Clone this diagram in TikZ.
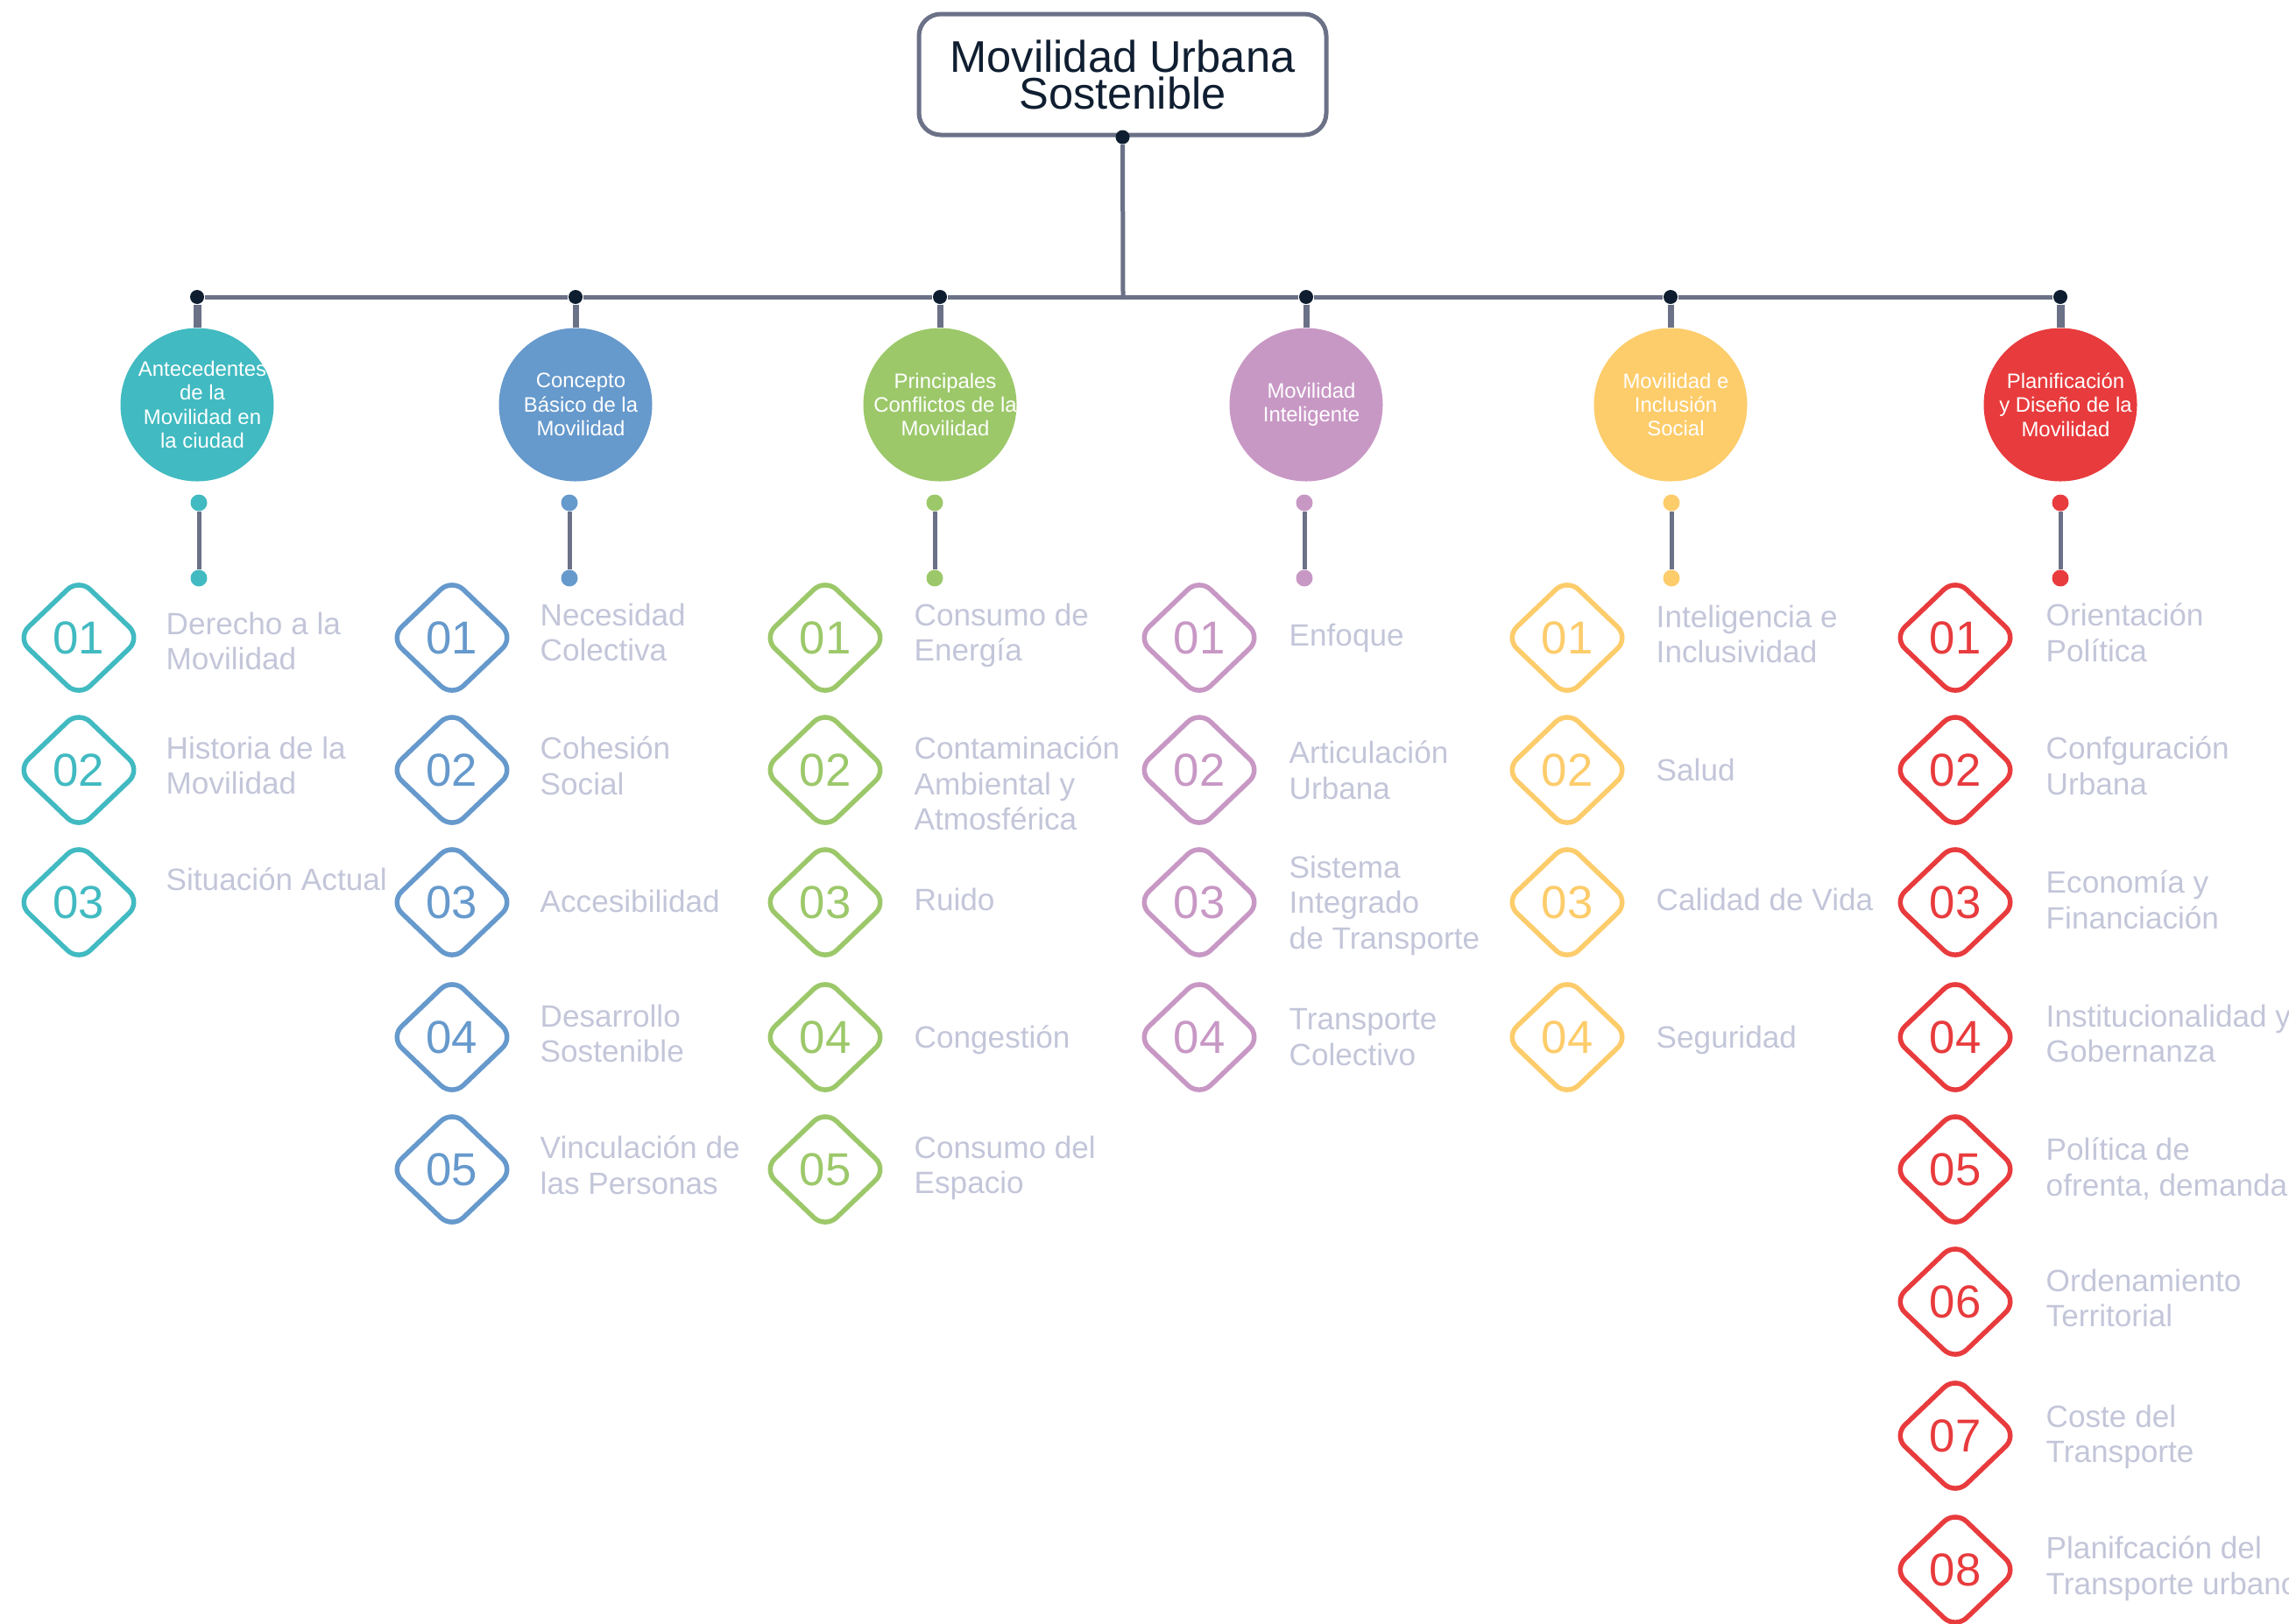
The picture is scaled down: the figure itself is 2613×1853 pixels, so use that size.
\documentclass[tikz,border=0pt]{standalone}
\usepackage{fontspec}
\setmainfont{Liberation Sans}
\usetikzlibrary{shapes.geometric}
\definecolor{cteal}{HTML}{41BAC1}
\definecolor{cblue}{HTML}{6699CC}
\definecolor{cgreen}{HTML}{9CC86A}
\definecolor{cpurple}{HTML}{C898C5}
\definecolor{cyellow}{HTML}{FDCC6B}
\definecolor{cred}{HTML}{E83B3D}
\definecolor{wiregray}{HTML}{6B7187}
\definecolor{hubdark}{HTML}{0E1E30}
\definecolor{itemgray}{HTML}{C3C6D9}
\definecolor{titleink}{HTML}{101E31}
\begin{document}
\begin{tikzpicture}[x=0.1mm, y=-0.1mm, line join=round,
	wire/.style={draw=wiregray, line width=0.5mm},
	stem/.style={draw=wiregray, line width=#1},
	hub/.style={circle, fill=hubdark, inner sep=0, minimum size=1.6mm},
	knob/.style={circle, fill=#1, inner sep=0, minimum size=1.9mm},
	rootbox/.style={draw=wiregray, line width=0.5mm, rounded corners=2.5mm, minimum width=46.5mm, minimum height=13.8mm, align=center, text=titleink, font=\fontsize{14.4}{12}\selectfont},
	topic/.style={circle, fill=#1, inner sep=0, minimum size=17.5mm},
	topictext/.style={align=center, text=white, inner sep=0, xshift=0.6mm, font=\fontsize{6.8}{7.8}\selectfont},
	badge/.style={diamond, draw=#1, text=#1, line width=0.55mm, rounded corners=1.8mm, minimum width=14.3mm, minimum height=13.7mm, inner sep=0, font=\fontsize{15}{15}\selectfont},
	itemlabel/.style={anchor=north west, inner sep=0, align=left, text=itemgray, font=\fontsize{10}{11.5}\selectfont}]
	\useasboundingbox (0,0) rectangle (2613,1853);
	% title and bus
	\node[rootbox] (root) at (1281.5,85) {Movilidad Urbana\\Sostenible};
	\node[hub] (h0) at (root.south) {};
	\coordinate (busmid) at (1282,339);
	\draw[wire] (h0) -- (busmid);
	% six topics
	\foreach \i/\c/\x/\lx/\w/\lab in {
		1/cteal/225/227/0.9mm/{Antecedentes\\de la\\Movilidad en\\la ciudad},
		2/cblue/657/650/0.7mm/{Concepto\\Básico de la\\Movilidad},
		3/cgreen/1073/1067/0.7mm/{Principales\\Conflictos de la\\Movilidad},
		4/cpurple/1491/1489/0.7mm/{Movilidad\\Inteligente},
		5/cyellow/1907/1908/0.7mm/{Movilidad e\\Inclusión\\Social},
		6/cred/2352/2352/0.9mm/{Planificación\\y Diseño de la\\Movilidad}}{
		\node[hub] (h\i) at (\x,339) {};
		\node[topic=\c] (t\i) at (\x,462) {};
		\node[topictext] (tt\i) at (t\i) {\lab};
		\node[knob=\c] (ka\i) at (\lx,574) {};
		\node[knob=\c] (kb\i) at (\lx,660) {};
		\draw[stem=\w] (h\i) -- (t\i);
		\draw[wire] (ka\i) -- (kb\i);
	}
	\draw[wire] (h1) -- (h2) -- (h3) -- (h4) -- (h5) -- (h6);
	% items
	\foreach \nr/\yd/\yt/\lab in {01/728/698/{Derecho a la\\Movilidad}, 02/879/840/{Historia de la\\Movilidad}, 03/1030/990/{Situación Actual}}{
		\node[badge=cteal] (a\nr) at (90,\yd) {\nr};
		\node[itemlabel] (al\nr) at (189,\yt) {\lab};
	}
	\foreach \nr/\yd/\yt/\lab in {01/728/688/{Necesidad\\Colectiva}, 02/879/840/{Cohesión\\Social}, 03/1030/1015/{Accesibilidad}, 04/1184/1146/{Desarrollo\\Sostenible}, 05/1335/1296/{Vinculación de\\las Personas}}{
		\node[badge=cblue] (b\nr) at (516,\yd) {\nr};
		\node[itemlabel] (bl\nr) at (616,\yt) {\lab};
	}
	\foreach \nr/\yd/\yt/\lab in {01/728/688/{Consumo de\\Energía}, 02/879/840/{Contaminación\\Ambiental y\\Atmosférica}, 03/1030/1013/{Ruido}, 04/1184/1170/{Congestión}, 05/1335/1296/{Consumo del\\Espacio}}{
		\node[badge=cgreen] (c\nr) at (942,\yd) {\nr};
		\node[itemlabel] (cl\nr) at (1043,\yt) {\lab};
	}
	\foreach \nr/\yd/\yt/\lab in {01/728/711/{Enfoque}, 02/879/845/{Articulación\\Urbana}, 03/1030/976/{Sistema\\Integrado\\de Transporte}, 04/1184/1151/{Transporte\\Colectivo}}{
		\node[badge=cpurple] (d\nr) at (1369,\yd) {\nr};
		\node[itemlabel] (dl\nr) at (1471,\yt) {\lab};
	}
	\foreach \nr/\yd/\yt/\lab in {01/728/690/{Inteligencia e\\Inclusividad}, 02/879/865/{Salud}, 03/1030/1013/{Calidad de Vida}, 04/1184/1170/{Seguridad}}{
		\node[badge=cyellow] (e\nr) at (1789,\yd) {\nr};
		\node[itemlabel] (el\nr) at (1890,\yt) {\lab};
	}
	\foreach \nr/\yd/\yt/\lab in {01/728/688/{Orientación\\Política}, 02/879/840/{Confguración\\Urbana}, 03/1030/993/{Economía y\\Financiación}, 04/1184/1146/{Institucionalidad y\\Gobernanza}, 05/1335/1298/{Política de\\ofrenta, demanda}, 06/1486/1448/{Ordenamiento\\Territorial}, 07/1639/1603/{Coste del\\Transporte}, 08/1792/1753/{Planifcación del\\Transporte urbano}}{
		\node[badge=cred] (f\nr) at (2232,\yd) {\nr};
		\node[itemlabel] (fl\nr) at (2335,\yt) {\lab};
	}
\end{tikzpicture}
\end{document}
